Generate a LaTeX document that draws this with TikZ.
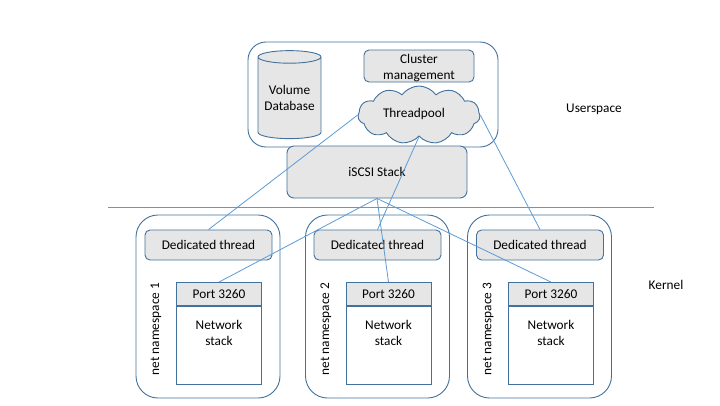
\documentclass[tikz,border=0pt]{standalone}
\usepackage{fontspec}
\setmainfont{Carlito}
\usetikzlibrary{positioning, shapes.geometric, shapes.symbols}
\definecolor{edge}{HTML}{41719C}
\definecolor{wire}{HTML}{5B9BD5}
\definecolor{shade}{HTML}{E7E6E6}
\begin{document}
\begin{tikzpicture}[x=1pt, y=-1pt, font=\fontsize{13.3}{16}\selectfont, inner sep=0pt, line width=0.9pt,
    main/.style = {draw=edge, fill=shade, rectangle, rounded corners=5pt, align=center},
    space/.style = {draw=edge, rectangle, minimum width=144pt, minimum height=183pt, rounded corners=22pt},
    thread/.style = {main, minimum width=127pt, minimum height=30pt},
    port/.style = {draw=edge, fill=shade, rectangle, minimum width=85pt, minimum height=23pt},
    stack/.style = {draw=edge, rectangle, minimum width=85pt, minimum height=78pt, align=center},
    wire/.style = {draw=wire, line width=0.8pt}]
    \useasboundingbox (0,0) rectangle (720,405);

    \node[space, minimum width=250pt, minimum height=105pt, rounded corners=18pt] (user) at (373,94.5) {};
    \node[draw=edge, fill=shade, cylinder, shape border rotate=90, aspect=0.25, minimum width=63pt, minimum height=88pt, align=center] (db) at (289.5,98) {Volume\\Database};
    \node[main, minimum width=110pt, minimum height=32pt] (cluster) at (419,66) {};
    \node[align=center] (clustertxt) at (419,68) {Cluster\\management};
    \node[draw=edge, fill=shade, cloud, cloud puffs=11, cloud puff arc=110, aspect=2.2, minimum width=122pt, minimum height=58pt] (pool) at (419,115) {};
    \node (pooltxt) at (414,114) {Threadpool};
    \node[main, rounded corners=7pt, minimum width=180pt, minimum height=52pt] (iscsi) at (377,172) {iSCSI Stack};

    \coordinate (linea) at (108,207);
    \coordinate (lineb) at (654,207);
    \draw[wire] (linea) -- (lineb);

    \node[space] (ns1) at (208,306.5) {};
    \node[thread] (ded1) at (208.5,245) {Dedicated thread};
    \node[port] (port1) at (219,294) {Port 3260};
    \node[stack] (stack1) [below=0pt of port1] {};
    \node[anchor=north, align=center] (txt1) at ([yshift=-14pt]stack1.north) {Network\\stack};
    \node[rotate=90] (lab1) at (156,329) {net namespace 1};

    \node[space] (ns2) at (377.5,306.5) {};
    \node[thread] (ded2) at (377.5,245) {Dedicated thread};
    \node[port] (port2) at (388.5,294) {Port 3260};
    \node[stack] (stack2) [below=0pt of port2] {};
    \node[anchor=north, align=center] (txt2) at ([yshift=-14pt]stack2.north) {Network\\stack};
    \node[rotate=90] (lab2) at (326,329) {net namespace 2};

    \node[space] (ns3) at (539.5,306.5) {};
    \node[thread] (ded3) at (540,245) {Dedicated thread};
    \node[port] (port3) at (551,294) {Port 3260};
    \node[stack] (stack3) [below=0pt of port3] {};
    \node[anchor=north, align=center] (txt3) at ([yshift=-14pt]stack3.north) {Network\\stack};
    \node[rotate=90] (lab3) at (488,329) {net namespace 3};

    \node (us) at (594,109) {Userspace};
    \node (kn) at (666,285) {Kernel};

    \draw[wire] (pool.west) -- (ded1.north);
    \draw[wire] (pool.south) -- (ded2.north);
    \draw[wire] (pool.east) -- (ded3.north);
    \draw[wire] (iscsi.south) -- (port1.north);
    \draw[wire] (iscsi.south) -- (port2.north);
    \draw[wire] (iscsi.south) -- (port3.north);
\end{tikzpicture}
\end{document}
